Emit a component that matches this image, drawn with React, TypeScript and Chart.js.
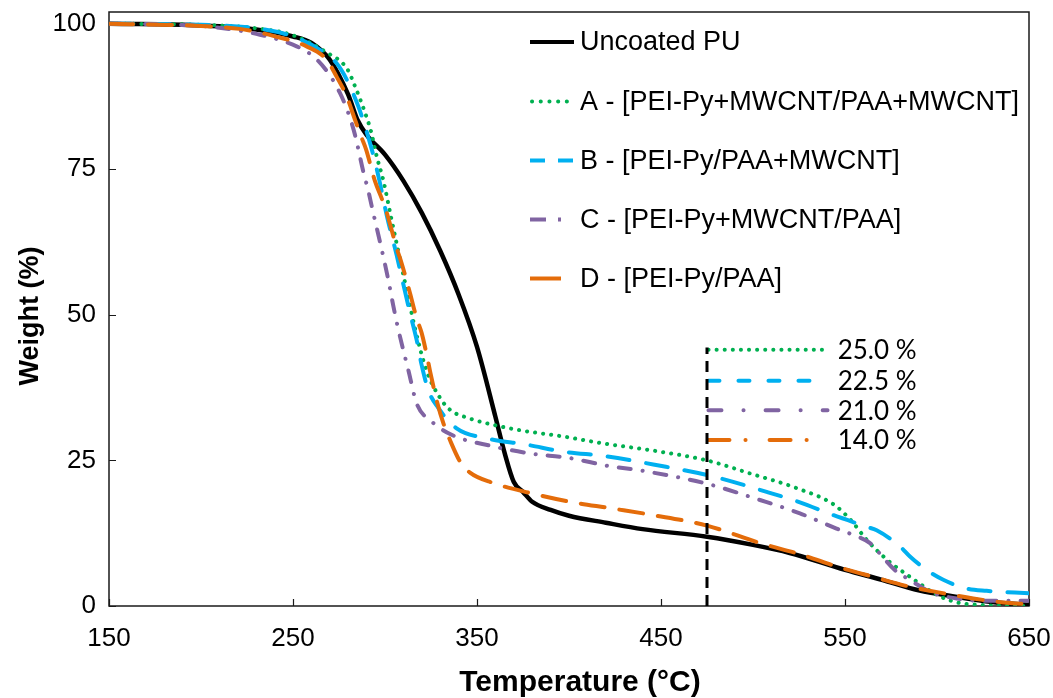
import React, { useEffect, useRef } from "react";
import { Chart, registerables } from "chart.js";

Chart.register(...registerables);

// ---------- data ----------
const seriesNames = [
  "Uncoated PU",
  "A - [PEI-Py+MWCNT/PAA+MWCNT]",
  "B - [PEI-Py/PAA+MWCNT]",
  "C - [PEI-Py+MWCNT/PAA]",
  "D - [PEI-Py/PAA]",
];

const uncoatedT = [150, 200, 230, 250, 260, 270, 280, 285, 290, 300, 310, 320, 330, 340, 350, 360, 365, 370, 375, 380, 390, 400, 420, 440, 475, 500, 520, 550, 570, 590, 610, 630, 650];
const uncoatedW = [100, 99.7, 99.0, 97.8, 96.7, 93.8, 87.8, 83.5, 80.9, 77.5, 73.0, 67.5, 61.0, 53.5, 44.5, 32.5, 26.3, 21.3, 19.6, 17.9, 16.5, 15.5, 14.3, 13.2, 11.9, 10.5, 9.1, 6.2, 4.5, 2.7, 1.6, 0.7, 0.2];

const aT = [150, 200, 230, 250, 268, 279.5, 284, 288.6, 292.4, 295.5, 299, 303.6, 309, 312.7, 316.3, 322.7, 330, 335.3, 346, 355, 373, 397, 417, 449.5, 475, 498, 524, 544, 553, 562, 573, 580, 589, 600, 611, 623, 650];
const aW = [100, 99.8, 99.2, 98.0, 95.1, 92.2, 89.0, 85.2, 81.5, 77.2, 73.2, 66.3, 58.3, 52.9, 47.7, 40.3, 35.7, 33.7, 32.2, 31.4, 30.2, 29.1, 28.0, 26.5, 25.0, 22.8, 20.2, 17.4, 14.8, 11.3, 7.9, 6.2, 4.2, 1.9, 0.6, 0.2, 0];

const bT = [150, 200, 230, 250, 264.7, 273.7, 279.2, 285.5, 290, 294, 297, 301, 306.3, 310, 313.6, 317.2, 319.9, 323.5, 329, 338.9, 355.3, 377, 397, 420.5, 445.8, 475, 507.4, 525.5, 543.7, 561.8, 567.2, 580, 585.3, 594.3, 603.4, 616, 627, 650];
const bW = [100, 99.8, 99.2, 97.8, 95.5, 93.2, 90.4, 85.8, 81.5, 77.0, 73.0, 67.0, 60.3, 55.2, 50.3, 45.7, 41.4, 37.1, 34.0, 30.5, 28.8, 27.7, 26.5, 25.7, 24.3, 22.5, 19.6, 17.8, 15.6, 13.6, 13.0, 10.2, 8.5, 6.2, 4.5, 3.0, 2.6, 2.2];

const cT = [150, 200, 232, 252, 261, 269.2, 275.5, 280, 283.7, 288.2, 291, 293.6, 297.3, 301.8, 304.6, 307.3, 312.7, 317.2, 325.3, 336.2, 359, 378.8, 400.5, 420.5, 442.2, 475, 503.8, 525.5, 545.4, 554.5, 563.6, 567.2, 578, 583.5, 598, 610.7, 623, 650];
const cW = [100, 99.6, 98.1, 96.1, 94.4, 91.5, 88.1, 84.7, 80.9, 74.6, 71.2, 67.5, 62.5, 56.0, 51.4, 47.4, 40.5, 34.8, 31.7, 29.4, 27.4, 26.2, 25.4, 24.1, 23.1, 21.0, 18.2, 15.9, 13.3, 12.2, 10.8, 9.6, 5.9, 4.8, 2.2, 1.3, 0.9, 0.9];

const dT = [150, 200, 221, 239.3, 257.4, 268.3, 273.7, 279.2, 283.7, 287.3, 289.7, 294.6, 298.2, 301, 306.3, 309, 313.6, 317.2, 319.9, 322.7, 324.5, 328.1, 331.7, 335.3, 340.8, 346.2, 359, 378.8, 400.5, 422.3, 445.8, 475, 503.8, 525.5, 547.3, 565.4, 585.3, 601.6, 619.7, 636, 650];
const dW = [100, 99.6, 99.1, 97.9, 96.1, 93.8, 90.9, 87.5, 83.5, 80.4, 78.4, 72.9, 70.0, 67.5, 61.5, 58.9, 53.7, 49.4, 46.9, 43.1, 40.3, 35.3, 31.4, 28.5, 24.8, 22.9, 21.1, 19.4, 17.9, 16.8, 15.6, 13.8, 10.8, 8.9, 6.6, 5.0, 3.3, 2.3, 1.3, 0.6, 0.3];

const xTicks = [150, 250, 350, 450, 550, 650];
const yTicks = [0, 25, 50, 75, 100];

const markerT = 475;
const markerTop = 44.4;
const insetEndT = 540.5;
const insetLabelT = 546;
const insetLevels = [44.0, 38.7, 33.6, 28.5];
const insetLabels = ["25.0 %", "22.5 %", "21.0 %", "14.0 %"];

// ---------- styles ----------
const BLACK = "#000000";
const GREEN = "#00B050";
const BLUE = "#00B0F0";
const PURPLE = "#8064A2";
const ORANGE = "#E46C0A";
const colors = [BLACK, GREEN, BLUE, PURPLE, ORANGE];
const mainDash = [[], [0.1, 8], [22, 17], [12, 12, 0.1, 12], [24, 15]];
const insetColors = [GREEN, BLUE, PURPLE, ORANGE];
const insetDash = [[0.1, 8], [11, 19], [13, 22, 0.1, 22], [21, 16, 0.1, 24]];

const pts = (t: number[], w: number[]) => t.map((x, i) => ({ x, y: w[i] }));

const decor = {
  id: "decor",
  beforeDatasetsDraw(chart: any) {
    const { ctx, chartArea: a, scales } = chart;
    const x = scales.x;
    const y = scales.y;
    ctx.save();
    ctx.strokeStyle = "#1a1a1a";
    ctx.lineWidth = 1.5;
    ctx.strokeRect(a.left, a.top, a.right - a.left, a.bottom - a.top);
    ctx.beginPath();
    ctx.lineWidth = 1.2;
    yTicks.forEach((v) => {
      const py = Math.round(y.getPixelForValue(v)) + 0.5;
      ctx.moveTo(a.left, py);
      ctx.lineTo(a.left + 7, py);
    });
    xTicks.forEach((v) => {
      const px = Math.round(x.getPixelForValue(v)) + 0.5;
      ctx.moveTo(px, a.bottom);
      ctx.lineTo(px, a.bottom - 7);
    });
    ctx.stroke();
    ctx.restore();
  },
  afterDatasetsDraw(chart: any) {
    const { ctx, chartArea: a, scales } = chart;
    const x = scales.x;
    const y = scales.y;
    ctx.save();
    // legend
    const rowsY = [42, 101.5, 160.5, 219.5, 278.5];
    const sx0 = 530;
    const sx1 = 574;
    const legendDash = [[], [0.1, 8.6], [15, 13], [16, 12, 3, 100], [31, 100]];
    seriesNames.forEach((name, i) => {
      const ry = rowsY[i];
      ctx.beginPath();
      ctx.strokeStyle = colors[i];
      ctx.lineWidth = 4;
      ctx.lineCap = i === 1 ? "round" : "butt";
      ctx.setLineDash(legendDash[i]);
      ctx.moveTo(sx0 + (i === 1 ? 2 : 0), ry);
      ctx.lineTo(sx1, ry);
      ctx.stroke();
      ctx.setLineDash([]);
      ctx.fillStyle = "#000";
      ctx.font = "27px 'Liberation Sans', Arial, sans-serif";
      ctx.textAlign = "left";
      ctx.textBaseline = "middle";
      ctx.fillText(name, 580, ry + 1);
    });
    // inset labels
    ctx.font = "26px Lato, 'Open Sans', sans-serif";
    ctx.fillStyle = "#000";
    ctx.textBaseline = "middle";
    insetLabels.forEach((t, i) => {
      ctx.fillText(t, x.getPixelForValue(insetLabelT), y.getPixelForValue(insetLevels[i]) + 1);
    });
    // axis titles
    ctx.font = "bold 30px 'Liberation Sans', Arial, sans-serif";
    ctx.textAlign = "center";
    ctx.fillText("Temperature (°C)", 580, 683);
    ctx.font = "bold 27px 'Liberation Sans', Arial, sans-serif";
    ctx.translate(31, 316);
    ctx.rotate(-Math.PI / 2);
    ctx.fillText("Weight (%)", 0, 0);
    ctx.restore();
  },
};

export default function App() {
  const ref = useRef<HTMLCanvasElement | null>(null);
  useEffect(() => {
    if (!ref.current) return;
    const mains = [
      pts(uncoatedT, uncoatedW),
      pts(aT, aW),
      pts(bT, bW),
      pts(cT, cW),
      pts(dT, dW),
    ].map((data, i) => ({
      label: seriesNames[i],
      data,
      borderColor: colors[i],
      backgroundColor: colors[i],
      borderWidth: i === 0 ? 4.5 : 4,
      borderDash: mainDash[i],
      borderCapStyle: i === 0 ? "butt" : "round",
      pointRadius: 0,
      cubicInterpolationMode: "monotone",
      fill: false,
      order: 5 - i,
    }));
    const marker = {
      label: "marker",
      data: [
        { x: markerT, y: 0 },
        { x: markerT, y: markerTop },
      ],
      borderColor: BLACK,
      borderWidth: 3,
      borderDash: [11, 7],
      pointRadius: 0,
      tension: 0,
      fill: false,
      order: 0,
    };
    const insets = insetLevels.map((lvl, i) => ({
      label: insetLabels[i],
      data: [
        { x: markerT + 0.8, y: lvl },
        { x: insetEndT, y: lvl },
      ],
      borderColor: insetColors[i],
      borderWidth: 4,
      borderDash: insetDash[i],
      borderCapStyle: "round",
      pointRadius: 0,
      tension: 0,
      fill: false,
      order: 0,
    }));
    const chart = new Chart(ref.current, {
      type: "line",
      data: { datasets: [...mains, marker, ...insets] as any },
      options: {
        responsive: false,
        animation: false,
        devicePixelRatio: 1,
        layout: { padding: { top: 12, right: 24, left: 0, bottom: 0 } },
        plugins: { legend: { display: false }, tooltip: { enabled: false } },
        scales: {
          x: {
            type: "linear",
            min: 150,
            max: 650,
            afterBuildTicks: (s: any) => {
              s.ticks = xTicks.map((v) => ({ value: v }));
            },
            afterFit: (s: any) => {
              s.height = 92;
              s.paddingLeft = 0;
              s.paddingRight = 0;
            },
            grid: { display: false, drawTicks: false },
            border: { display: false },
            ticks: {
              color: "#000",
              padding: 17,
              maxRotation: 0,
              autoSkip: false,
              font: { family: "'Liberation Sans', Arial, sans-serif", size: 26 },
            },
          },
          y: {
            type: "linear",
            min: 0,
            max: 102,
            afterBuildTicks: (s: any) => {
              s.ticks = yTicks.map((v) => ({ value: v }));
            },
            afterFit: (s: any) => {
              s.width = 109;
              s.paddingTop = 0;
              s.paddingBottom = 0;
            },
            grid: { display: false, drawTicks: false },
            border: { display: false },
            ticks: {
              color: "#000",
              padding: 13,
              autoSkip: false,
              font: { family: "'Liberation Sans', Arial, sans-serif", size: 26 },
            },
          },
        },
      } as any,
      plugins: [decor],
    });
    return () => chart.destroy();
  }, []);
  return (
    <div style={{ position: "absolute", left: 0, top: 0, width: 1053, height: 698, background: "#fff" }}>
      <canvas ref={ref} width={1053} height={698} style={{ display: "block" }} />
    </div>
  );
}
